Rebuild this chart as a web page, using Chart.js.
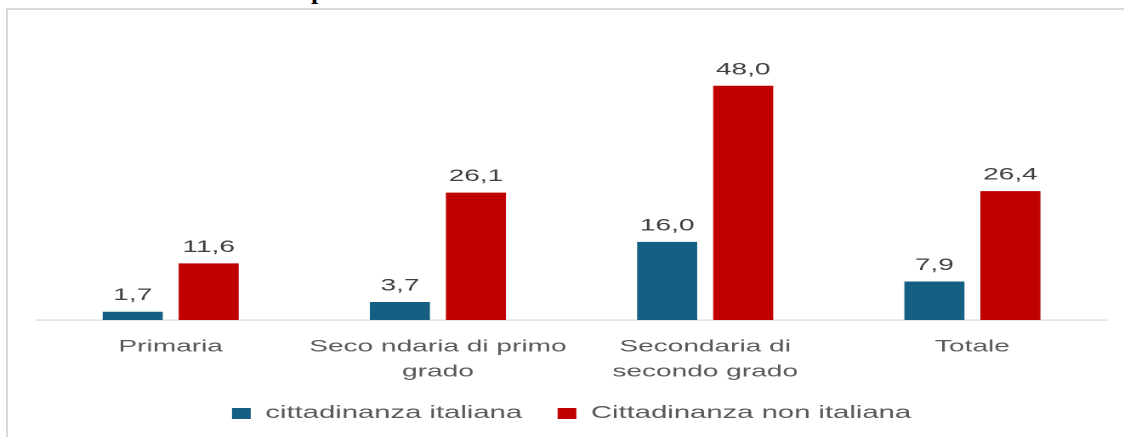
<!DOCTYPE html>
<html>
<head>
<meta charset="utf-8">
<script src="https://cdn.jsdelivr.net/npm/chart.js@4"></script>
<style>
    html, body { margin: 0; padding: 0; background: #ffffff; overflow: hidden; }
    #frame {
        position: absolute; left: 6px; top: 8px; width: 1200px; height: 500px;
        border-left: 2px solid #d9d9d9; border-top: 2px solid #d9d9d9;
    }
    #title-cut {
        position: absolute; left: 311px; top: -22px;
        font: bold 26px 'Liberation Serif', serif; line-height: 26px; color: #000;
    }
    /* the reference is stretched horizontally, so draw narrow and widen */
    #wrap {
        position: absolute; left: 0; top: 0; width: 661px; height: 437px;
        transform: scaleX(1.7005); transform-origin: 0 0;
    }
</style>
</head>
<body>
<div id="frame"></div>
<div id="title-cut">p</div>
<div id="wrap"><canvas id="chart"></canvas></div>
<script>
// Chart data
const categories = ['Primaria', ['Seco ndaria di primo', 'grado'], ['Secondaria di', 'secondo grado'], 'Totale'];
const seriesNames = ['cittadinanza italiana', 'Cittadinanza non italiana'];
const italiana = [1.7, 3.7, 16.0, 7.9];
const nonItaliana = [11.6, 26.1, 48.0, 26.4];

const BLUE = '#156082';
const RED = '#C00000';

Chart.defaults.font.family = "'Liberation Sans', Arial, sans-serif";

// Draws the value above every bar (comma as decimal separator)
const valueLabels = {
    id: 'valueLabels',
    afterDatasetsDraw(chart) {
        const ctx = chart.ctx;
        ctx.save();
        ctx.font = "16.5px 'Liberation Sans', Arial, sans-serif";
        ctx.fillStyle = '#404040';
        ctx.textAlign = 'center';
        ctx.textBaseline = 'alphabetic';
        chart.data.datasets.forEach((ds, i) => {
            chart.getDatasetMeta(i).data.forEach((bar, j) => {
                const txt = ds.data[j].toFixed(1).replace('.', ',');
                ctx.fillText(txt, bar.x, bar.y - 11.5);
            });
        });
        ctx.restore();
    }
};

new Chart(document.getElementById('chart'), {
    type: 'bar',
    data: {
        labels: categories,
        datasets: [
            { label: seriesNames[0], data: italiana, backgroundColor: BLUE },
            { label: seriesNames[1], data: nonItaliana, backgroundColor: RED }
        ]
    },
    options: {
        responsive: true,
        maintainAspectRatio: false,
        animation: false,
        devicePixelRatio: 2,
        categoryPercentage: 0.569,
        barPercentage: 0.79,
        layout: {
            padding: { left: 21.8, right: 10.6, top: 76, bottom: 4.9 }
        },
        plugins: {
            tooltip: { enabled: false },
            legend: {
                position: 'bottom',
                labels: {
                    boxWidth: 11,
                    boxHeight: 11,
                    padding: 20.9,
                    color: '#595959',
                    font: { size: 17.2 }
                }
            }
        },
        scales: {
            x: {
                grid: { display: false, drawTicks: false },
                border: { display: true, color: '#d9d9d9', width: 1.3 },
                ticks: {
                    color: '#595959',
                    padding: 14.2,
                    maxRotation: 0,
                    autoSkip: false,
                    font: { size: 16.5, lineHeight: 1.52 }
                },
                afterFit(scale) {
                    scale.height = 64.0;
                }
            },
            y: {
                display: false,
                min: 0,
                max: 50
            }
        }
    },
    plugins: [valueLabels]
});
</script>
</body>
</html>
